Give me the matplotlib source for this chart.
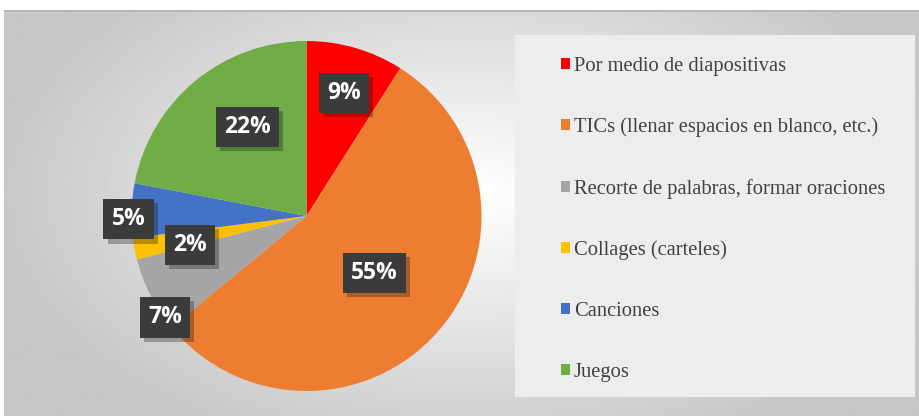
"""Pie chart of teaching activities (percentages) with a side legend."""

import numpy as np
import matplotlib
matplotlib.use("Agg")
import matplotlib.pyplot as plt
import matplotlib.patheffects as pe
from matplotlib.patches import Rectangle, Patch

# Data
CATEGORIES = [
    "Por medio de diapositivas",
    "TICs (llenar espacios en blanco, etc.)",
    "Recorte de palabras, formar oraciones",
    "Collages (carteles)",
    "Canciones",
    "Juegos",
]
PERCENTS = [9, 55, 7, 2, 5, 22]
COLORS = ["#FF0000", "#ED7D31", "#A5A5A5", "#FFC000", "#4472C4", "#70AD47"]
# label placement: distance from centre (fraction of radius) and angle nudge (deg)
LABEL_DIST = [0.735, 0.507, 0.995, 0.686, 1.017, 0.61]
LABEL_NUDGE = [-0.8, 1.4, 8.6, 3.2, 2.8, -6.1]

W, H = 920, 416
fig = plt.figure(figsize=(W / 100, H / 100), dpi=100)
fig.patch.set_facecolor("white")

# Background with a soft radial gradient
bg = fig.add_axes([4 / W, 0, (W - 4) / W, (H - 10) / H])
yy, xx = np.mgrid[0:200, 0:450]
dist = np.sqrt(((xx - 230) / 450) ** 2 + ((yy - 90) / 260) ** 2)
shade = np.clip(1.0 - 0.42 * dist, 0.78, 1.0)
bg.imshow(shade, cmap="gray", vmin=0, vmax=1, aspect="auto", origin="upper")
bg.axhline(-0.5, color="#b5b5b5", lw=2)
bg.set_axis_off()

# Legend box
fig.patches.append(Rectangle((515 / W, 19 / H), 400 / W, 362 / H,
                             transform=fig.transFigure, facecolor="#ededed",
                             edgecolor="none", zorder=1))

# Pie
ax = fig.add_axes([131.5 / W, 25 / H, 350 / W, 350 / H])
wedges, _ = ax.pie(PERCENTS, colors=COLORS, startangle=90, counterclock=False,
                   radius=1.0)
ax.set_xlim(-1, 1)
ax.set_ylim(-1, 1)
ax.set_aspect("equal")
ax.set_axis_off()

for wedge, pct, d, nudge in zip(wedges, PERCENTS, LABEL_DIST, LABEL_NUDGE):
    mid = np.deg2rad((wedge.theta1 + wedge.theta2) / 2 + nudge)
    txt = ax.text(d * np.cos(mid), d * np.sin(mid), f"{pct}%", ha="center", va="center",
                  color="white", fontsize=16.5, fontweight="bold", family="Open Sans",
                  bbox=dict(boxstyle="square,pad=0.36", facecolor="#3b3b3b",
                            edgecolor="none"), zorder=5)
    txt.get_bbox_patch().set_path_effects(
        [pe.SimplePatchShadow(offset=(3, -3), alpha=0.3), pe.Normal()])

handles = [Patch(facecolor=c, edgecolor="none") for c in COLORS]
leg = fig.legend(handles, CATEGORIES, loc="upper left",
                 bbox_to_anchor=(542 / W, 1 - 38 / H), frameon=False,
                 prop={"family": "Liberation Serif", "size": 14.8},
                 handlelength=0.44, handleheight=0.44, handletextpad=0.2,
                 labelspacing=2.03, labelcolor="#404040")

fig.savefig("out.png", dpi=100, facecolor=fig.get_facecolor())
